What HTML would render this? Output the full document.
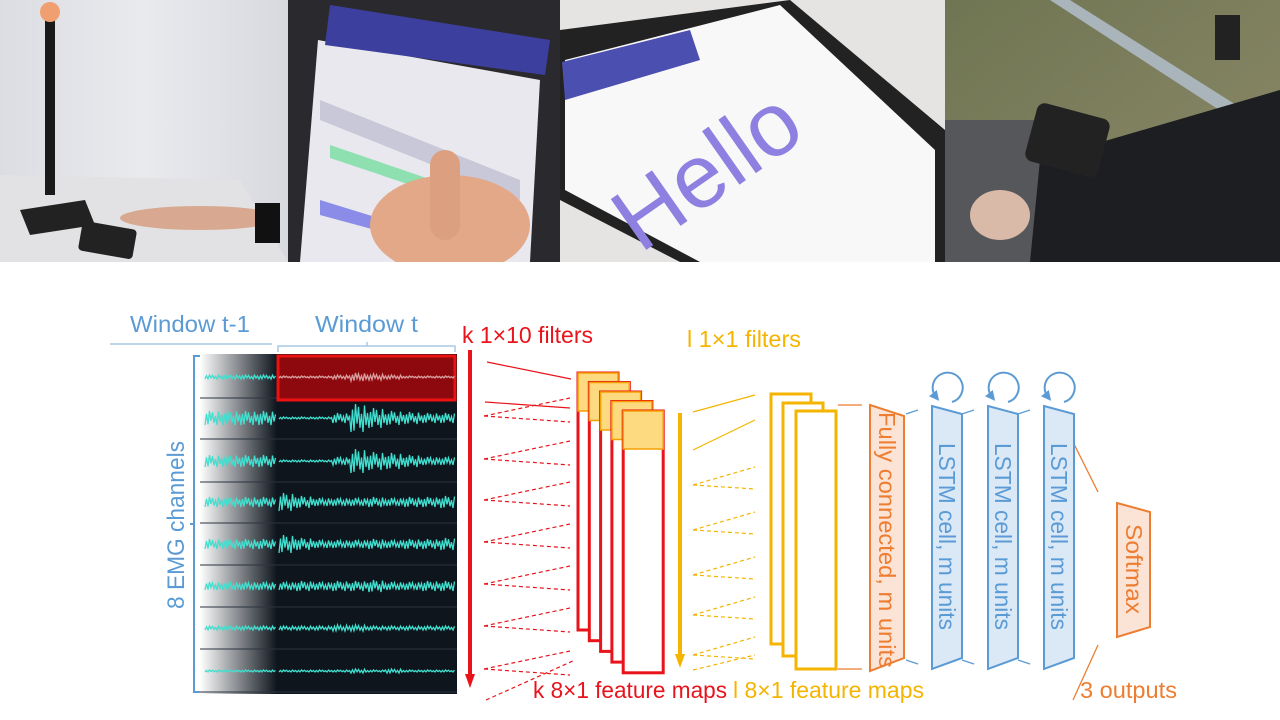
<!DOCTYPE html>
<html><head><meta charset="utf-8"><style>
html,body{margin:0;padding:0;background:#fff;}
svg{display:block;font-family:"Liberation Sans",sans-serif;}
</style></head><body>
<svg id="s" width="1280" height="720" viewBox="0 0 1280 720">
<defs>
<linearGradient id="fade" x1="0" x2="1"><stop offset="0" stop-color="#fff"/><stop offset="1" stop-color="#0e151d"/></linearGradient>
<linearGradient id="room" x1="0" x2="1"><stop offset="0" stop-color="#dcdde2"/><stop offset="0.5" stop-color="#e9eaee"/><stop offset="1" stop-color="#d8d9de"/></linearGradient>
<linearGradient id="grass" x1="0" y1="0" x2="1" y2="1"><stop offset="0" stop-color="#6f7552"/><stop offset="1" stop-color="#8d8a6a"/></linearGradient>
<clipPath id="top"><rect x="0" y="0" width="1280" height="262"/></clipPath>
<marker id="ar" markerUnits="userSpaceOnUse" markerWidth="14" markerHeight="14" refX="2" refY="7" orient="auto"><path d="M0,2L14,7L0,12z" fill="#e8131b"/></marker>
<marker id="ay" markerUnits="userSpaceOnUse" markerWidth="14" markerHeight="14" refX="2" refY="7" orient="auto"><path d="M0,2L14,7L0,12z" fill="#f5b400"/></marker>
<marker id="ab" markerWidth="5" markerHeight="5" refX="2.5" refY="2.5" orient="auto"><path d="M0,0L5,2.5L0,5z" fill="#5b9bd5"/></marker>
</defs>
<g clip-path="url(#top)">
<g>
<rect x="0" y="0" width="288" height="262" fill="url(#room)"/>
<polygon points="0,175 240,180 288,262 0,262" fill="#e2e2e4"/>
<rect x="45" y="15" width="10" height="180" fill="#1a1a1a"/>
<circle cx="50" cy="12" r="10" fill="#f0a070"/>
<polygon points="20,210 85,200 95,225 30,235" fill="#222"/>
<rect x="80" y="225" width="55" height="30" rx="4" fill="#222" transform="rotate(10 107 240)"/>
<ellipse cx="200" cy="218" rx="80" ry="12" fill="#d8a890"/>
<rect x="255" y="203" width="25" height="40" fill="#111"/>
</g>
<g>
<rect x="288" y="0" width="272" height="262" fill="#2a2a2e"/>
<polygon points="318,40 540,80 530,262 300,262" fill="#e8e8ee"/>
<polygon points="330,5 550,40 545,75 325,45" fill="#3d3f9e"/>
<polygon points="320,100 520,180 520,200 320,120" fill="#c8c8d8"/>
<polygon points="330,145 520,210 515,220 330,158" fill="#8ee0b0"/>
<polygon points="320,200 450,240 450,250 320,215" fill="#8a8ce8"/>
<ellipse cx="450" cy="225" rx="80" ry="50" fill="#e2a888"/>
<rect x="430" y="150" width="30" height="90" rx="15" fill="#dca080"/>
</g>
<g>
<rect x="560" y="0" width="385" height="262" fill="#e6e4e2"/>
<polygon points="560,30 790,0 945,130 945,262 680,262 560,200" fill="#222"/>
<polygon points="565,60 780,5 935,150 935,262 700,262 565,190" fill="#f8f8f8"/>
<polygon points="562,62 690,30 700,60 565,100" fill="#4a4fb0"/>
<text x="620" y="210" font-size="90" fill="#8e80e0" transform="rotate(-35 700 200)">Hello</text>
</g>
<g>
<rect x="945" y="0" width="335" height="262" fill="url(#grass)"/>
<rect x="945" y="120" width="100" height="142" fill="#55575a"/>
<polygon points="1050,0 1070,0 1260,120 1250,130" fill="#a9b4bb"/>
<polygon points="1040,160 1280,90 1280,262 1030,262" fill="#1d1e22"/>
<ellipse cx="1000" cy="215" rx="30" ry="25" fill="#d9b9a8"/>
<rect x="1030" y="110" width="75" height="60" rx="8" fill="#222" transform="rotate(15 1067 140)"/>
<rect x="1215" y="15" width="25" height="45" fill="#222"/>
</g>
</g>

<g font-size="23" fill="#5b9bd5">
<text x="130" y="332" textLength="120" lengthAdjust="spacingAndGlyphs">Window t-1</text>
<text x="315" y="332" textLength="103" lengthAdjust="spacingAndGlyphs">Window t</text>
</g>
<path d="M110,344H272 M278,352V346H455V352 M367,346V342" stroke="#a9c8e6" stroke-width="1.5" fill="none"/>
<path d="M200,356H194V692H200 M194,524H190" stroke="#5b9bd5" stroke-width="2" fill="none"/>
<text transform="translate(184,609) rotate(-90)" font-size="24" fill="#5b9bd5" textLength="168" lengthAdjust="spacingAndGlyphs">8 EMG channels</text>

<rect x="200" y="354" width="77" height="340" fill="url(#fade)"/>
<rect x="277" y="354" width="180" height="340" fill="#0e151d"/>
<g id="emg"></g>
<rect x="278" y="356" width="177" height="44" fill="#a5070c" fill-opacity="0.85" stroke="#ee1111" stroke-width="3"/>
<g id="emg0"></g>

<text x="462" y="343" font-size="23" fill="#e8131b" textLength="131" lengthAdjust="spacingAndGlyphs">k 1×10 filters</text>
<line x1="470" y1="350" x2="470" y2="676" stroke="#e8131b" stroke-width="4" marker-end="url(#ar)"/>
<g id="redlines" stroke="#e8131b" stroke-width="1.2" fill="none"></g>
<g id="redmaps"></g>
<text x="533" y="698" font-size="23" fill="#e8131b" textLength="194" lengthAdjust="spacingAndGlyphs">k 8×1 feature maps</text>

<text x="687" y="347" font-size="23" fill="#f5b400" textLength="114" lengthAdjust="spacingAndGlyphs">l 1×1 filters</text>
<line x1="680" y1="413" x2="680" y2="656" stroke="#f5b400" stroke-width="4" marker-end="url(#ay)"/>
<g id="ylines" stroke="#f5b400" stroke-width="1.2" fill="none"></g>
<g fill="#fff" stroke="#f5b400" stroke-width="3">
<rect x="771" y="394" width="40" height="250"/>
<rect x="783" y="403" width="40" height="253"/>
<rect x="796" y="411" width="40" height="258"/>
</g>
<text x="733" y="698" font-size="23" fill="#f5b400" textLength="191" lengthAdjust="spacingAndGlyphs">l 8×1 feature maps</text>

<g stroke="#ed7d31" stroke-width="1.3" fill="none">
<line x1="838" y1="405" x2="862" y2="405"/><line x1="838" y1="669" x2="862" y2="669"/>
<line x1="1073" y1="442" x2="1098" y2="492"/><line x1="1098" y1="645" x2="1073" y2="700"/>
</g>
<polygon points="870,405 904,416 904,658 870,671" fill="#fbe3d6" stroke="#ed7d31" stroke-width="2"/>
<text transform="translate(879,412) rotate(90)" font-size="23" fill="#ed7d31" textLength="256" lengthAdjust="spacingAndGlyphs">Fully connected, m units</text>
<g id="lstm"></g>
<path d="M906,414l12,-4 M906,660l12,4 M962,414l12,-4 M962,660l12,4 M1018,414l12,-4 M1018,660l12,4" stroke="#5b9bd5" stroke-width="1.3" fill="none"/>
<polygon points="1117,503 1150,512 1150,627 1117,637" fill="#fbe3d6" stroke="#ed7d31" stroke-width="2"/>
<text transform="translate(1126,524) rotate(90)" font-size="23" fill="#ed7d31" textLength="90" lengthAdjust="spacingAndGlyphs">Softmax</text>
<text x="1080" y="698" font-size="23" fill="#ed7d31" textLength="97" lengthAdjust="spacingAndGlyphs">3 outputs</text>
</svg>
<script>
const NS="http://www.w3.org/2000/svg";
const channelPrevAmp=[2,7,6,5,5,4,2,1];
const channelAmp=[
 [1,1,1,2,4,3,2,1,1,1],
 [1,1,1,5,14,10,7,6,5,5],
 [1,1,1,4,12,9,8,6,4,4],
 [9,6,4,4,4,5,4,5,5,6],
 [9,6,4,4,4,5,4,5,5,6],
 [4,5,4,5,5,6,4,4,5,5],
 [2,2,2,3,3,2,2,2,2,2],
 [1,1,1,1,2,1,2,1,1,1]];
const channelY=[377,418,461,502,544,586,628,671];
const zig=[1,-0.6,0.9,-1,0.4,-0.8,0.7,-0.3,1,-0.9,0.5,-0.5];
function wave(y,x0,x1,ampFn,color,w,parent){
 let d="";let i=0;
 for(let x=x0;x<=x1;x+=1.5){const a=ampFn(x);d+=(i?"L":"M")+x.toFixed(1)+","+(y+a*zig[i%zig.length]).toFixed(1);i++;}
 const p=document.createElementNS(NS,"path");p.setAttribute("d",d);p.setAttribute("stroke",color);p.setAttribute("stroke-width",w);p.setAttribute("fill","none");parent.appendChild(p);return p;
}
const g=document.getElementById("emg"),g0=document.getElementById("emg0");
channelY.forEach((y,c)=>{
 const l=document.createElementNS(NS,"line");
 
 
 l.setAttribute("x1",200);l.setAttribute("x2",457);l.setAttribute("y1",y+21);l.setAttribute("y2",y+21);l.setAttribute("stroke","#2a3440");g.appendChild(l);
 const p1=wave(y,205,276,()=>channelPrevAmp[c],"#40e0d0",1.3,g);
 
 
 const p2=wave(y,279,455,x=>channelAmp[c][Math.min(9,Math.floor((x-279)/17.7))],c==0?"#d8a0a0":"#40e0d0",1.3,c==0?g0:g);
 
 
});
const rl=document.getElementById("redlines");
function ln(par,x1,y1,x2,y2,dash){const l=document.createElementNS(NS,"line");l.setAttribute("x1",x1);l.setAttribute("y1",y1);l.setAttribute("x2",x2);l.setAttribute("y2",y2);if(dash)l.setAttribute("stroke-dasharray","4,3");par.appendChild(l);}
ln(rl,487,362,571,379);ln(rl,485,402,570,408);
channelY.slice(1).forEach((y,i)=>{ln(rl,484,y-2,570,y-20,1);ln(rl,484,y-2,570,y+4,1);});
ln(rl,486,700,575,660,1);
const rm=document.getElementById("redmaps");
for(let i=0;i<5;i++){
 const x=578+i*11.3,t=373+i*9.5,b=630+i*10.7;
 const r=document.createElementNS(NS,"rect");
 
 
 r.setAttribute("x",x);r.setAttribute("y",t);r.setAttribute("width",40);r.setAttribute("height",b-t);r.setAttribute("fill","#fff");r.setAttribute("stroke","#e8131b");r.setAttribute("stroke-width",3);rm.appendChild(r);
 const c=document.createElementNS(NS,"rect");
 
 
 c.setAttribute("x",x);c.setAttribute("y",t);c.setAttribute("width",40);c.setAttribute("height",38);c.setAttribute("fill","#fdd97f");c.setAttribute("stroke","#f5a000");c.setAttribute("stroke-width",1.5);rm.appendChild(c);
}
const yl=document.getElementById("ylines");
ln(yl,693,412,755,395);ln(yl,693,450,755,420);
[485,530,575,615,655].forEach(y=>{ln(yl,693,y,755,y-18,1);ln(yl,693,y,755,y+4,1);});
ln(yl,693,670,755,655,1);
const lstmX=[932,988,1044];
const lg=document.getElementById("lstm");
lstmX.forEach(x=>{
 const p=document.createElementNS(NS,"polygon");
 
 
 p.setAttribute("points",`${x},406 ${x+30},414 ${x+30},658 ${x},669`);p.setAttribute("fill","#dbe9f6");p.setAttribute("stroke","#5b9bd5");p.setAttribute("stroke-width",2);lg.appendChild(p);
 const t=document.createElementNS(NS,"text");
 
 
 t.setAttribute("transform",`translate(${x+7},443) rotate(90)`);t.setAttribute("font-size","23");t.setAttribute("fill","#5b9bd5");t.setAttribute("textLength","187");t.setAttribute("lengthAdjust","spacingAndGlyphs");t.textContent="LSTM cell, m units";lg.appendChild(t);
 const a=document.createElementNS(NS,"path");
 
 
 a.setAttribute("d",`M${x+20},402 A15,15 0 1 0 ${x+4},397`);a.setAttribute("stroke","#5b9bd5");a.setAttribute("stroke-width",2);a.setAttribute("fill","none");a.setAttribute("marker-end","url(#ab)");lg.appendChild(a);
});
</script>
</body></html>
